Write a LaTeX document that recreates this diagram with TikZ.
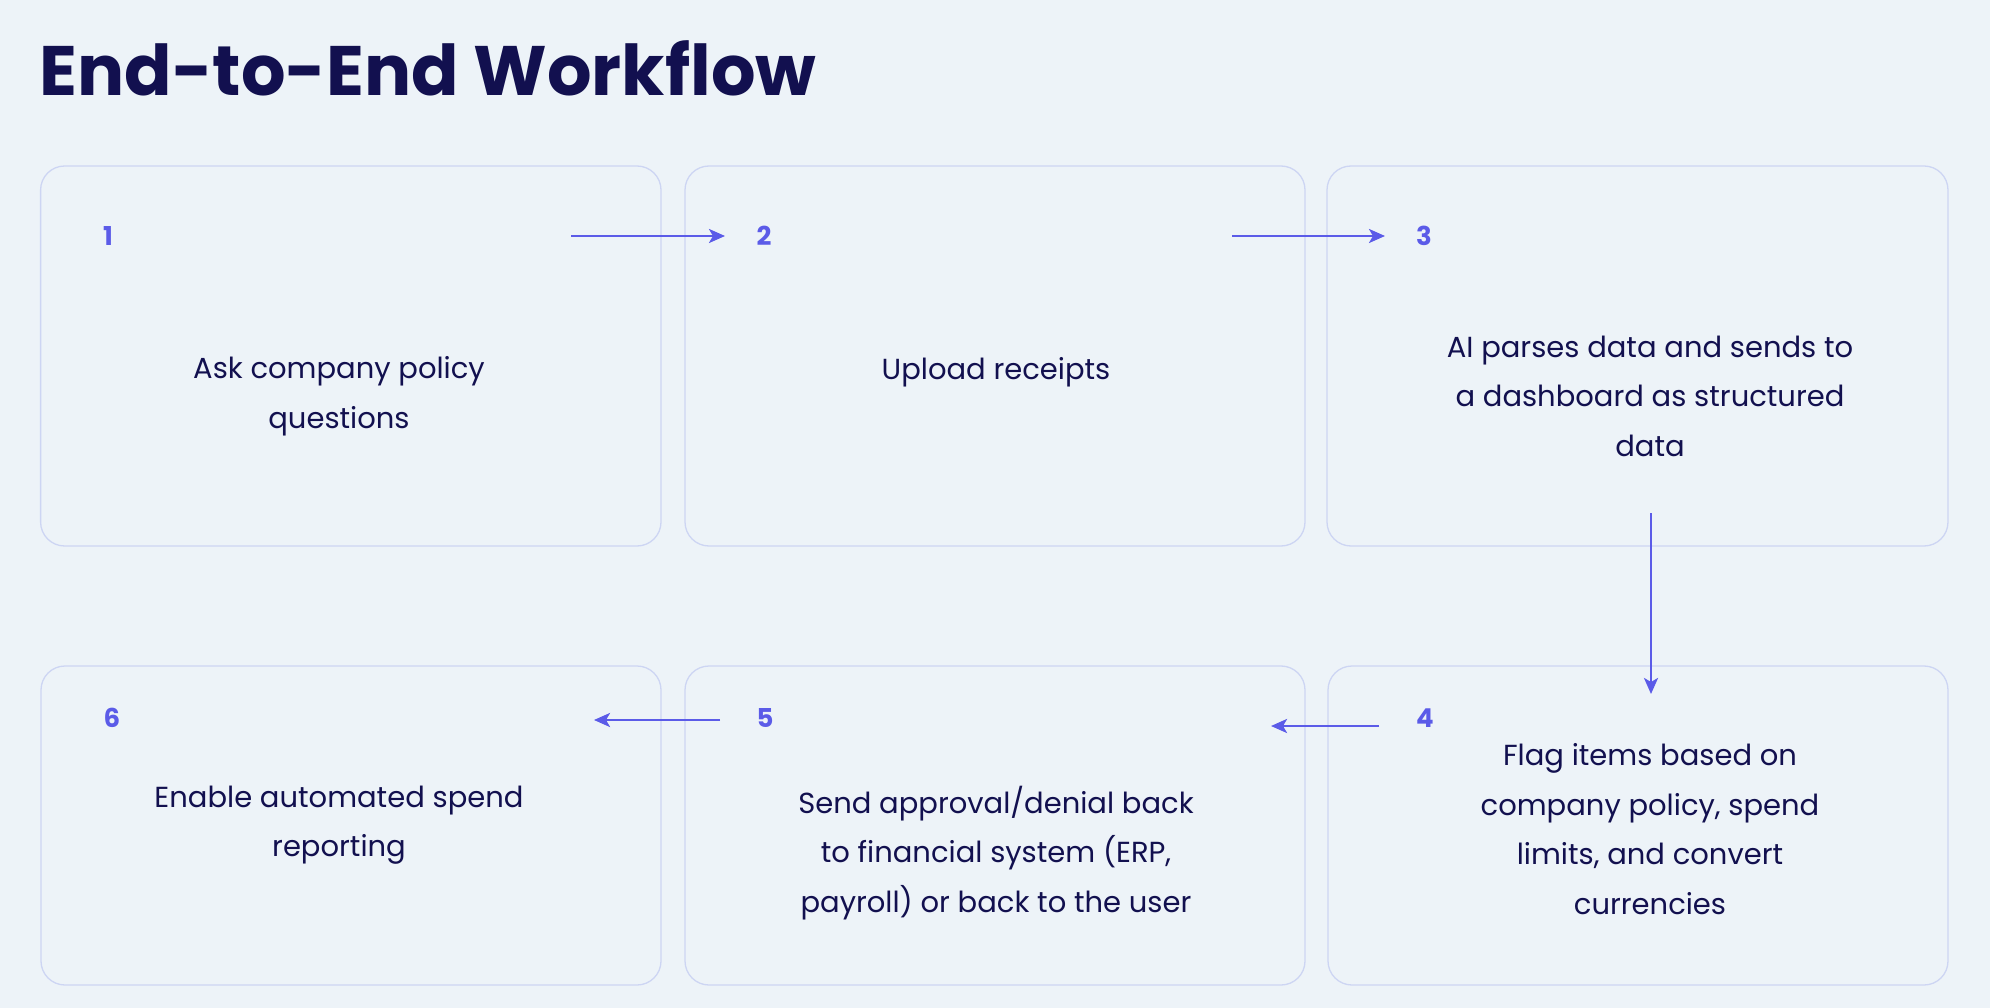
\documentclass[tikz,border=0pt]{standalone}
\usepackage{fontspec}
\setmainfont{Poppins}
\usetikzlibrary{arrows.meta}
\definecolor{bg}{HTML}{EDF3F8}
\definecolor{ink}{HTML}{12104F}
\definecolor{acc}{HTML}{5B5BE8}
\definecolor{edge}{HTML}{CDD5F3}
\begin{document}
\begin{tikzpicture}[x=1pt,y=-1pt,
 box/.style={draw=edge,line width=1.3pt,rounded corners=24pt},
 num/.style={text=acc,font=\fontsize{26}{30}\selectfont\bfseries,anchor=center},
 txt/.style={text=ink,font=\fontsize{29}{49.5}\selectfont,align=center,anchor=center},
 arr/.style={draw=acc,line width=2.6pt,-{Stealth[length=16pt,width=14pt,inset=4pt]}}]
\fill[bg] (0,0) rectangle (1990,1008);
\useasboundingbox (0,0) rectangle (1990,1008);
\node[text=ink,font=\fontsize{70}{80}\selectfont\bfseries,anchor=west] (title) at (36,68) {End-to-End Workflow};
\draw[box] (40.6,166) rectangle (661,546);
\draw[box] (685,166) rectangle (1305,546);
\draw[box] (1327,166) rectangle (1948,546);
\draw[box] (41,666) rectangle (661,985);
\draw[box] (685,666) rectangle (1305,985);
\draw[box] (1328,666) rectangle (1948,985);
\node[num] (n1) at (108,236) {1};
\node[num] (n2) at (764,236) {2};
\node[num] (n3) at (1424,236) {3};
\node[num] (n4) at (1425,718) {4};
\node[num] (n5) at (765,718) {5};
\node[num] (n6) at (112,718) {6};
\node[txt] (t1) at (339,396) {Ask company policy\\questions};
\node[txt] (t2) at (996,372) {Upload receipts};
\node[txt] (t3) at (1650,396) {AI parses data and sends to\\a dashboard as structured\\data};
\node[txt] (t4) at (1650,829) {Flag items based on\\company policy, spend\\limits, and convert\\currencies};
\node[txt] (t5) at (996,853) {Send approval/denial back\\to financial system (ERP,\\payroll) or back to the user};
\node[txt] (t6) at (339,825) {Enable automated spend\\reporting};
\coordinate (a1s) at (571,236); \coordinate (a1e) at (725,236);
\coordinate (a2s) at (1232,236); \coordinate (a2e) at (1385,236);
\coordinate (a3s) at (1651,513); \coordinate (a3e) at (1651,694);
\coordinate (a4s) at (1379,726); \coordinate (a4e) at (1271,726);
\coordinate (a5s) at (720,720); \coordinate (a5e) at (594,720);
\draw[arr] (a1s) -- (a1e);
\draw[arr] (a2s) -- (a2e);
\draw[arr] (a3s) -- (a3e);
\draw[arr] (a4s) -- (a4e);
\draw[arr] (a5s) -- (a5e);
\end{tikzpicture}
\end{document}
